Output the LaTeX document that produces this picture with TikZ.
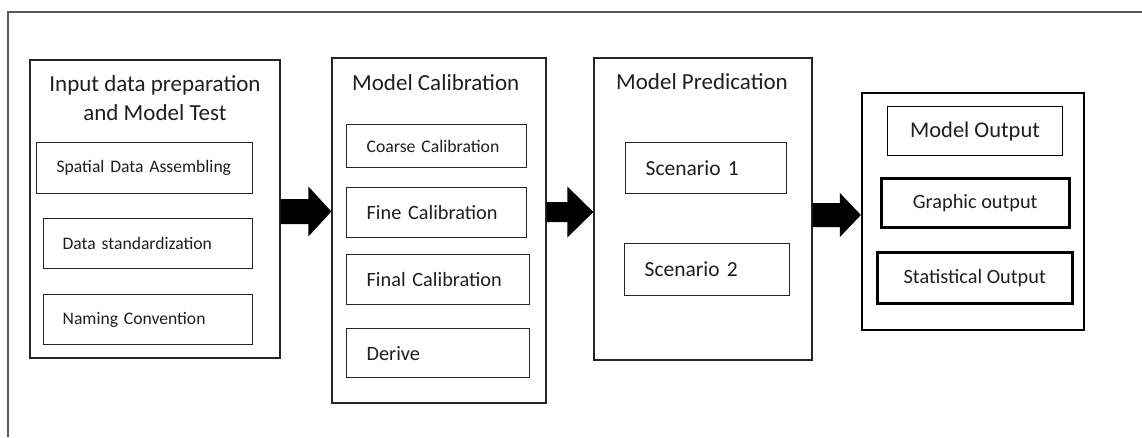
\documentclass[tikz,border=0pt]{standalone}
\usepackage{fontspec}
\setmainfont{Carlito}
\usetikzlibrary{calc}
\tikzset{
  frame/.style={draw=black!65, line width=2pt},
  container/.style={draw=black!85, line width=1.3pt, rectangle, inner sep=0pt},
  heavybox/.style={draw=black, line width=2.2pt, rectangle, inner sep=0pt},
  titletext/.style={font=\fontsize{23}{29}\selectfont, text=black!88, inner sep=0pt},
  inbox/.style={draw=black!85, line width=1.3pt, rectangle, anchor=north west, align=left, inner ysep=0pt, text=black!88},
  outbox/.style={draw=black, rectangle, anchor=north west, align=center, inner sep=0pt, text=black!88},
  fat/.style={fill=black}
}
\newcommand{\fatarrow}[5]{% from, to, headlen, shafthalf, headhalf
  \fill[fat] ($(#1)+(0,-#4)$) -- ($(#2)+(-#3,-#4)$) -- ($(#2)+(-#3,-#5)$) -- (#2)
    -- ($(#2)+(-#3,#5)$) -- ($(#2)+(-#3,#4)$) -- ($(#1)+(0,#4)$) -- cycle;}
\begin{document}
\begin{tikzpicture}[x=1pt,y=-1pt]
\useasboundingbox (0,0) rectangle (1142,437);
\fill[white] (0,0) rectangle (1142,437);
% outer frame (cropped at right and bottom)
\draw[frame] (1142,12) -- (8,12) -- (8,437);

% Box 1
\node[container, minimum width=250pt, minimum height=298pt] (b1) at (155,209) {};
\node[titletext, align=center] (t1) at (155,98.5) {Input data preparation\\and Model Test};
\node[inbox, font=\fontsize{17.6}{19}\selectfont, minimum height=51pt, inner xsep=20pt, text width=176pt] (s1) at (36,142) {Spatial Data Assembling};
\node[inbox, font=\fontsize{17.6}{19}\selectfont, minimum height=50pt, inner xsep=19pt, text width=171pt] (s2) at (43,218) {Data standardization};
\node[inbox, font=\fontsize{17.6}{19}\selectfont, minimum height=50pt, inner xsep=19pt, text width=171pt] (s3) at (43,294) {Naming Convention};

% Box 2
\node[container, minimum width=214pt, minimum height=345pt] (b2) at (439,230.5) {};
\node[titletext, anchor=west] (t2) at (352,83) {Model Calibration};
\node[inbox, font=\fontsize{17.7}{19}\selectfont, minimum height=43pt, inner xsep=20pt, text width=140pt] (c1) at (346,124) {Coarse Calibration};
\node[inbox, font=\fontsize{20.3}{22}\selectfont, minimum height=50pt, inner xsep=20pt, text width=140pt] (c2) at (346,187) {Fine Calibration};
\node[inbox, font=\fontsize{20.3}{22}\selectfont, minimum height=50pt, inner xsep=20pt, text width=143pt] (c3) at (346,254) {Final Calibration};
\node[inbox, font=\fontsize{20.3}{22}\selectfont, minimum height=49pt, inner xsep=20pt, text width=143pt] (c4) at (346,328) {Derive};

% Box 3
\node[container, minimum width=218pt, minimum height=302pt] (b3) at (703,209) {};
\node[titletext, anchor=west] (t3) at (616,82) {Model Predication};
\node[inbox, font=\fontsize{21.5}{23}\selectfont, minimum height=51pt, inner xsep=20pt, text width=121pt] (p1) at (625,142) {Scenario 1};
\node[inbox, font=\fontsize{21.5}{23}\selectfont, minimum height=52pt, inner xsep=20pt, text width=125pt] (p2) at (624,243) {Scenario 2};

% Box 4
\node[heavybox, minimum width=222pt, minimum height=237pt] (b4) at (973,211.5) {};
\node[outbox, line width=1pt, font=\fontsize{22.5}{24}\selectfont, minimum width=175pt, minimum height=49pt] (o1) at (887,106) {Model Output};
\node[outbox, line width=2.5pt, font=\fontsize{20.3}{22}\selectfont, minimum width=188pt, minimum height=49pt] (o2) at (880,177) {Graphic output};
\node[outbox, line width=2.5pt, font=\fontsize{20.3}{22}\selectfont, minimum width=195pt, minimum height=51pt] (o3) at (876,251) {Statistical Output};

% connectors
\coordinate (a1f) at ($(b1.east)+(0,2.5)$);
\coordinate (a1t) at (b2.west |- a1f);
\fatarrow{a1f}{a1t}{23}{12.5}{25}
\coordinate (a2f) at ($(b2.east)+(0,-18.5)$);
\coordinate (a2t) at (b3.west |- a2f);
\fatarrow{a2f}{a2t}{26}{10}{25.5}
\coordinate (a3f) at ($(b3.east)+(0,6)$);
\coordinate (a3t) at (b4.west |- a3f);
\fatarrow{a3f}{a3t}{21}{12}{22}
\end{tikzpicture}
\end{document}
